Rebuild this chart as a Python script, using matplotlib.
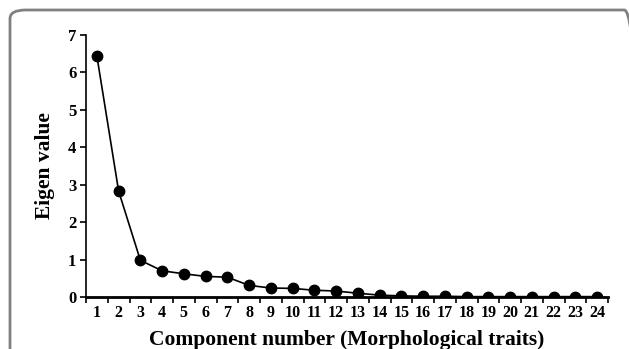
import numpy as np
import matplotlib
matplotlib.use('Agg')
import matplotlib.pyplot as plt
from matplotlib.patches import FancyBboxPatch

# eigen values
components = list(range(1, 25))
eigen = [6.44, 2.83, 0.98, 0.70, 0.62, 0.55, 0.53, 0.31, 0.24, 0.23,
         0.18, 0.16, 0.10, 0.05, 0.03, 0.02, 0.02, 0.01, 0.01, 0.01,
         0.01, 0.01, 0.01, 0.01]
yticks = list(range(0, 8))

plt.rcParams['font.family'] = 'Liberation Serif'
plt.rcParams['font.weight'] = 'bold'

fig = plt.figure(figsize=(6.29, 3.49), dpi=100)
W, H = 629., 349.

# rounded grey frame around the figure (right and bottom run off the page)
frame = FancyBboxPatch((10 / W, -30 / H), 630 / W, 369 / H,
                       boxstyle='round,pad=0,rounding_size=0.025',
                       transform=fig.transFigure, fill=False,
                       edgecolor='#808080', linewidth=2, zorder=0)
fig.patches.append(frame)

ax = fig.add_axes([86 / W, 1 - 297 / H, 522 / W, 262 / H])
x = np.arange(len(components))
ax.plot(x, eigen, '-', color='black', linewidth=1.2,
        marker='o', markersize=7.5, markerfacecolor='black')

ax.set_xlim(-0.5, len(components) - 0.5)
ax.set_ylim(0, 7)
ax.set_yticks(yticks)
ax.set_yticklabels([str(v) for v in yticks], fontsize=12, fontweight='bold')
ax.set_xticks(x)
ax.set_xticklabels([str(c) for c in components], fontsize=11.5, fontweight='bold')
ax.tick_params(axis='x', length=0, pad=6)
ax.set_xticks(np.arange(-0.5, len(components)), minor=True)
ax.tick_params(axis='x', which='minor', length=4, width=1.2, direction='out')
ax.tick_params(axis='y', length=4, width=1.2, direction='out', pad=3)

ax.spines['top'].set_visible(False)
ax.spines['right'].set_visible(False)
ax.spines['left'].set_linewidth(1.2)
ax.spines['bottom'].set_linewidth(2)

ax.set_ylabel('Eigen value', fontsize=15.5, fontweight='bold', labelpad=9)
ax.set_xlabel('Component number (Morphological traits)', fontsize=15.5,
              fontweight='bold', labelpad=6)

fig.savefig('out.png', dpi=100)
